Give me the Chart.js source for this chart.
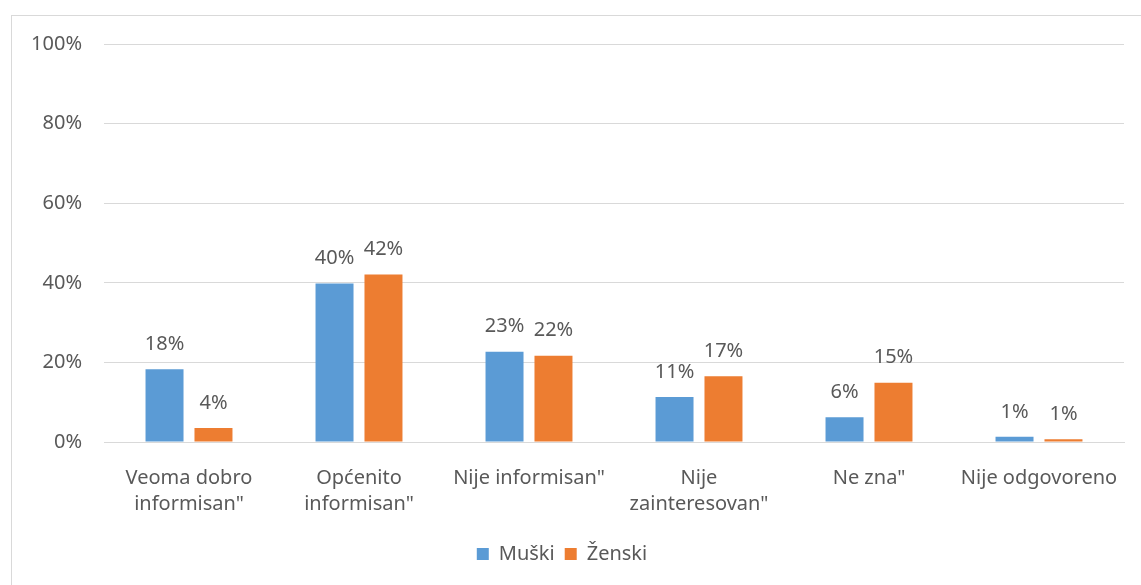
<!DOCTYPE html>
<html>
<head>
<meta charset="utf-8">
<script src="https://cdn.jsdelivr.net/npm/chart.js@4/dist/chart.umd.min.js"></script>
<style>
    body { margin: 0; background: #fff; }
    #wrap { position: relative; width: 1141px; height: 585px; }
    #frame { position: absolute; left: 11px; top: 15px; width: 1140px; height: 580px; border: 1px solid #d9d9d9; box-sizing: border-box; }
    #chart { position: absolute; left: 0; top: 0; }
</style>
</head>
<body>
<div id="wrap">
    <div id="frame"></div>
    <canvas id="chart" width="1141" height="585"></canvas>
</div>
<script>
var categories = [
    ["Veoma dobro", "informisan\""],
    ["Općenito", "informisan\""],
    "Nije informisan\"",
    ["Nije", "zainteresovan\""],
    "Ne zna\"",
    "Nije odgovoreno"
];
var muski = [18.3, 39.8, 22.7, 11.3, 6.2, 1.3];
var zenski = [3.5, 42.1, 21.7, 16.5, 14.9, 0.7];
var yTicks = [0, 20, 40, 60, 80, 100];

var textColor = "#595959";
var fontFamily = "'Noto Sans', sans-serif";
var fontSize = 20;

// percent labels above each bar
var barLabels = {
    id: "barLabels",
    afterDatasetsDraw: function (chart) {
        var ctx = chart.ctx;
        ctx.save();
        ctx.fillStyle = textColor;
        ctx.font = fontSize + "px " + fontFamily;
        ctx.textAlign = "center";
        ctx.textBaseline = "bottom";
        chart.data.datasets.forEach(function (ds, i) {
            chart.getDatasetMeta(i).data.forEach(function (bar, j) {
                ctx.fillText(Math.round(ds.data[j]) + "%", bar.x, bar.y - 15);
            });
        });
        ctx.restore();
    }
};

new Chart(document.getElementById("chart"), {
    type: "bar",
    data: {
        labels: categories,
        datasets: [{
            label: "Muški",
            data: muski,
            backgroundColor: "#5b9bd5"
        }, {
            label: "Ženski",
            data: zenski,
            backgroundColor: "#ed7d31"
        }]
    },
    options: {
        responsive: false,
        animation: false,
        categoryPercentage: 0.576,
        barPercentage: 0.776,
        layout: { padding: { top: 44, right: 17, left: 0, bottom: 11 } },
        plugins: {
            tooltip: { enabled: false },
            legend: {
                position: "bottom",
                labels: {
                    color: textColor,
                    font: { family: fontFamily, size: fontSize },
                    boxWidth: 12,
                    boxHeight: 12,
                    padding: 10
                }
            }
        },
        scales: {
            x: {
                grid: { display: false },
                border: { color: "#d9d9d9", width: 1 },
                ticks: {
                    color: textColor,
                    font: { family: fontFamily, size: fontSize, lineHeight: 1.3 },
                    padding: 15,
                    maxRotation: 0,
                    autoSkip: false
                },
                afterFit: function (s) { s.height = 92; }
            },
            y: {
                min: 0,
                max: 100,
                afterBuildTicks: function (s) {
                    s.ticks = yTicks.map(function (v) { return { value: v }; });
                },
                grid: { color: "#d9d9d9", drawTicks: false },
                border: { display: false },
                ticks: {
                    color: textColor,
                    font: { family: fontFamily, size: fontSize },
                    padding: 22,
                    callback: function (v) { return v + "%"; }
                },
                afterFit: function (s) { s.width = 104; }
            }
        }
    },
    plugins: [barLabels]
});
</script>
</body>
</html>
